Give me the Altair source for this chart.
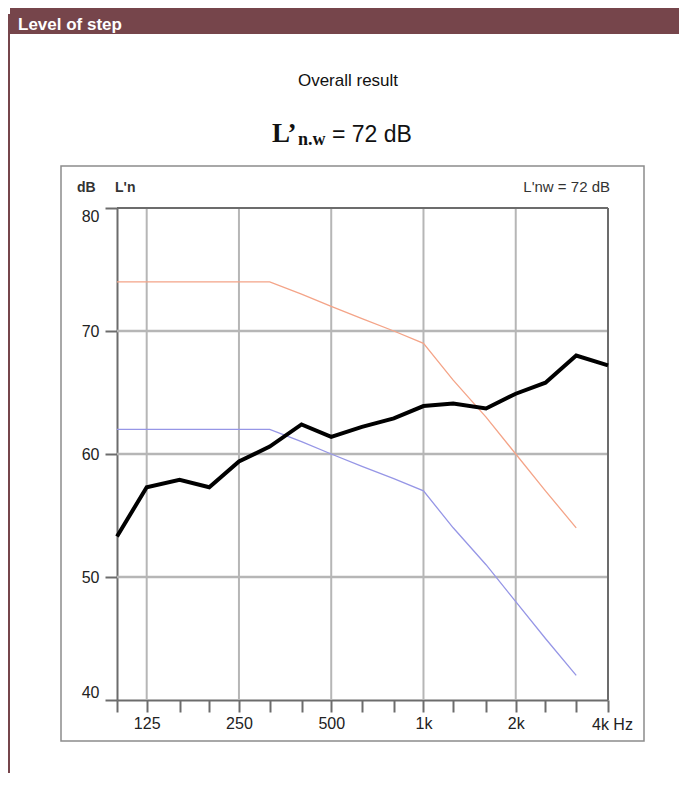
import altair as alt
import pandas as pd

# ---- data ----
freqs = [100, 125, 160, 200, 250, 315, 400, 500, 630, 800, 1000, 1250, 1600, 2000, 2500, 3150, 4000]
measured = [53.3, 57.3, 57.9, 57.3, 59.4, 60.6, 62.4, 61.4, 62.2, 62.9, 63.9, 64.1, 63.7, 64.9, 65.8, 68.0, 67.2]
ref_freqs = [100, 125, 160, 200, 250, 315, 400, 500, 630, 800, 1000, 1250, 1600, 2000, 2500, 3150]
ref_curve = [62, 62, 62, 62, 62, 62, 61, 60, 59, 58, 57, 54, 51, 48, 45, 42]
shifted_curve = [74, 74, 74, 74, 74, 74, 73, 72, 71, 70, 69, 66, 63, 60, 57, 54]
octave_freqs = [125, 250, 500, 1000, 2000]
y_ticks = [40, 50, 60, 70, 80]
inner_db = [50, 60, 70]

W, H = 491, 492
xs = alt.Scale(type="log", domain=[100, 4000])
ys = alt.Scale(domain=[40, 80])

df_meas = pd.DataFrame({"f": freqs, "db": measured})
df_ref = pd.DataFrame({"f": ref_freqs, "db": ref_curve})
df_shift = pd.DataFrame({"f": ref_freqs, "db": shifted_curve})
one = pd.DataFrame({"a": [0]})

SANS = "Liberation Sans, Arial, sans-serif"
SERIF = "Liberation Serif, Times New Roman, serif"
MAROON = "#76454b"
GRID = "#b6b6b6"
DARK = "#6c6c6c"
LABEL = "#222222"

label_expr = ("datum.value == 125 ? '125' : datum.value == 250 ? '250' : datum.value == 500 ? '500' : "
              "datum.value == 1000 ? '1k' : datum.value == 2000 ? '2k' : ''")

X_AXIS = alt.Axis(values=freqs, title=None, grid=False, tickSize=12, tickWidth=2, tickColor=DARK,
                  domainColor=DARK, domainWidth=2, labelExpr=label_expr, labelFont=SANS,
                  labelFontSize=16, labelColor=LABEL, labelPadding=3, labelFlush=False,
                  labelOverlap=False)
Y_AXIS = alt.Axis(values=y_ticks, title=None, grid=False, tickSize=12, tickWidth=2, tickColor=DARK,
                  domainColor=DARK, domainWidth=2, labelFont=SANS, labelFontSize=16,
                  labelColor=LABEL, labelPadding=6, labelFlush=True)


def X(field="f"):
    return alt.X(f"{field}:Q", scale=xs, axis=X_AXIS)


def Y(field="db"):
    return alt.Y(f"{field}:Q", scale=ys, axis=Y_AXIS)


# decorations
header = alt.Chart(one).mark_rect(color=MAROON).encode(
    x=alt.value(-107), x2=alt.value(570), y=alt.value(-201), y2=alt.value(-174))
header_txt = alt.Chart(one).mark_text(text="Level of step", font=SANS, fontSize=17, fontWeight="bold",
                                       color="white", align="left", baseline="alphabetic").encode(
    x=alt.value(-99), y=alt.value(-178))
left_bar = alt.Chart(one).mark_rule(color=MAROON, strokeWidth=2).encode(
    x=alt.value(-108), y=alt.value(-194), y2=alt.value(570))
box = alt.Chart(one).mark_rect(filled=False, stroke="#8c8c8c", strokeWidth=1.5).encode(
    x=alt.value(-56), x2=alt.value(527), y=alt.value(-42), y2=alt.value(533))

title1 = alt.Chart(one).mark_text(text="Overall result", font=SANS, fontSize=17, color="#111",
                                  align="center", baseline="alphabetic").encode(
    x=alt.value(231), y=alt.value(-122))
t_L = alt.Chart(one).mark_text(text="L’", font=SERIF, fontSize=27, fontWeight="bold", color="#111",
                               align="left", baseline="alphabetic").encode(x=alt.value(155), y=alt.value(-66))
t_nw = alt.Chart(one).mark_text(text="n.w", font=SERIF, fontSize=18, fontWeight="bold", color="#111",
                                align="left", baseline="alphabetic").encode(x=alt.value(181), y=alt.value(-63))
t_eq = alt.Chart(one).mark_text(text="= 72 dB", font=SANS, fontSize=23, color="#111",
                                align="left", baseline="alphabetic").encode(x=alt.value(215), y=alt.value(-66))

t_dB = alt.Chart(one).mark_text(text="dB", font=SANS, fontSize=14, fontWeight="bold", color="#333",
                                align="left", baseline="alphabetic").encode(x=alt.value(-40), y=alt.value(-16))
t_Ln = alt.Chart(one).mark_text(text="L'n", font=SANS, fontSize=14, fontWeight="bold", color="#333",
                                align="left", baseline="alphabetic").encode(x=alt.value(-2), y=alt.value(-16))
t_Lnw = alt.Chart(one).mark_text(text="L'nw = 72 dB", font=SANS, fontSize=15, color="#333",
                                 align="right", baseline="alphabetic").encode(x=alt.value(493), y=alt.value(-16))
t_4kHz = alt.Chart(pd.DataFrame({"f": [4000], "lab": ["4k Hz"]})).mark_text(
    font=SANS, fontSize=16, color=LABEL, align="left", baseline="alphabetic", dx=-16).encode(
    x=X(), y=alt.value(522), text="lab:N")

# grid lines
vgrid = alt.Chart(pd.DataFrame({"f": octave_freqs})).mark_rule(color=GRID, strokeWidth=2).encode(
    x=X(), y=alt.value(0), y2=alt.value(H))
hgrid = alt.Chart(pd.DataFrame({"db": inner_db})).mark_rule(color=GRID, strokeWidth=2.5).encode(
    y=Y(), x=alt.value(0), x2=alt.value(W))
top_line = alt.Chart(pd.DataFrame({"db": [80]})).mark_rule(color=DARK, strokeWidth=2).encode(
    y=Y(), x=alt.value(0), x2=alt.value(W))
right_line = alt.Chart(pd.DataFrame({"f": [4000]})).mark_rule(color=DARK, strokeWidth=2).encode(
    x=X(), y=alt.value(0), y2=alt.value(H))

# data lines
line_shift = alt.Chart(df_shift).mark_line(color="#f4a488", strokeWidth=1.3).encode(x=X(), y=Y())
line_ref = alt.Chart(df_ref).mark_line(color="#9696e6", strokeWidth=1.3).encode(x=X(), y=Y())
line_meas = alt.Chart(df_meas).mark_line(color="#000000", strokeWidth=4, strokeJoin="miter").encode(
    x=X(), y=Y())

chart = alt.layer(
    header, header_txt, left_bar, box, title1, t_L, t_nw, t_eq, t_dB, t_Ln, t_Lnw,
    vgrid, hgrid, top_line, right_line, line_shift, line_ref, line_meas, t_4kHz
).properties(
    width=W, height=H,
    autosize=alt.AutoSizeParams(type="none"),
    padding={"left": 109, "top": 200, "right": 71, "bottom": 73},
).configure_view(stroke=None)

chart.save("out.html", embed_options={"renderer": "svg", "actions": False})
